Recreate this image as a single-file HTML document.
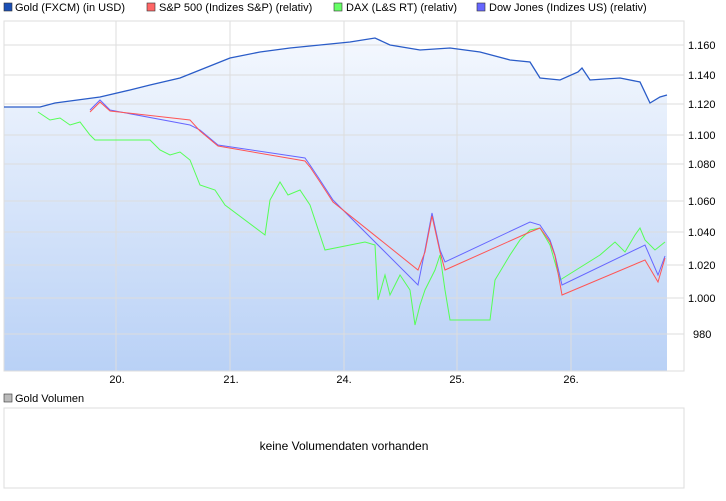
<!DOCTYPE html><html><head><style>body{margin:0;background:#fff;font-family:"Liberation Sans",sans-serif}</style></head><body>
<svg width="726" height="496" xmlns="http://www.w3.org/2000/svg" font-family="Liberation Sans, sans-serif" font-size="11">
<defs><linearGradient id="g" x1="0" y1="0" x2="0" y2="1"><stop offset="0" stop-color="#f4f8fe"/><stop offset="1" stop-color="#b9d1f6"/></linearGradient></defs>
<rect x="4" y="3" width="8" height="8" fill="#1a4fb5" stroke="#333" stroke-width="0.6"/><text x="15" y="11">Gold (FXCM) (in USD)</text>
<rect x="147" y="3" width="8" height="8" fill="#f66" stroke="#333" stroke-width="0.6"/><text x="159" y="11">S&amp;P 500 (Indizes S&amp;P) (relativ)</text>
<rect x="334" y="3" width="8" height="8" fill="#6f6" stroke="#333" stroke-width="0.6"/><text x="346" y="11">DAX (L&amp;S RT) (relativ)</text>
<rect x="477" y="3" width="8" height="8" fill="#66f" stroke="#333" stroke-width="0.6"/><text x="489" y="11">Dow Jones (Indizes US) (relativ)</text>
<path d="M4,107 L40,107 L55,103 L100,97 L130,90 L150,85 L180,78 L200,70 L230,58 L260,52 L290,48 L320,45 L350,42 L375,38 L390,45 L420,50 L450,48 L480,52 L510,60 L530,62 L540,78 L560,80 L578,72 L582,68 L590,80 L620,78 L640,82 L650,103 L660,97 L667,95 L667,371 L4,371Z" fill="url(#g)"/>
<g stroke="#ddd" fill="none"><rect x="4" y="21" width="680" height="350"/>
<path d="M116,21V371M230,21V371M344,21V371M457,21V371M571,21V371M4,45H684M4,75H684M4,104H684M4,135H684M4,164H684M4,201H684M4,232H684M4,265H684M4,298H684M4,334H684"/></g>
<polyline fill="none" stroke="#2a5cc8" stroke-width="1.3" points="4,107 40,107 55,103 100,97 130,90 150,85 180,78 200,70 230,58 260,52 290,48 320,45 350,42 375,38 390,45 420,50 450,48 480,52 510,60 530,62 540,78 560,80 578,72 582,68 590,80 620,78 640,82 650,103 660,97 667,95"/>
<polyline fill="none" stroke="#5f5" stroke-width="1" points="38,112 50,120 60,118 70,125 80,122 90,135 95,140 150,140 160,150 170,155 180,152 190,160 200,185 215,190 225,205 265,235 270,200 280,182 288,195 300,190 310,205 325,250 365,242 375,245 378,300 385,275 390,295 400,275 410,290 415,325 420,305 425,290 435,270 440,255 445,290 450,320 490,320 495,280 510,255 520,240 530,230 540,228 550,245 560,280 600,255 615,242 625,252 635,235 640,228 645,240 655,250 665,242"/>
<polyline fill="none" stroke="#66f" stroke-width="1" points="90,110 100,100 110,110 190,125 200,130 218,145 305,158 310,165 320,180 333,200 418,285 425,250 432,213 440,250 445,262 530,222 540,225 550,240 555,255 562,285 645,245 658,275 665,256"/>
<polyline fill="none" stroke="#f55" stroke-width="1" points="90,112 100,102 110,111 190,120 200,131 218,146 305,161 310,167 320,182 333,202 418,270 425,252 432,216 440,252 445,270 530,232 540,228 550,242 555,256 562,295 645,260 658,282 665,258"/>
<g font-size="11"><text x="688" y="49">1.160</text><text x="688" y="79">1.140</text><text x="688" y="108">1.120</text><text x="688" y="139">1.100</text><text x="688" y="168">1.080</text><text x="688" y="205">1.060</text><text x="688" y="236">1.040</text><text x="688" y="269">1.020</text><text x="688" y="302">1.000</text><text x="693" y="338">980</text></g>
<g text-anchor="middle"><text x="117" y="383">20.</text><text x="231" y="383">21.</text><text x="344" y="383">24.</text><text x="457" y="383">25.</text><text x="571" y="383">26.</text></g>
<rect x="4" y="394" width="8" height="8" fill="#bbb" stroke="#333" stroke-width="0.6"/><text x="15" y="402">Gold Volumen</text>
<rect x="4" y="408" width="680" height="80" fill="none" stroke="#ddd"/>
<text x="344" y="450" text-anchor="middle" font-size="12">keine Volumendaten vorhanden</text>
</svg></body></html>
